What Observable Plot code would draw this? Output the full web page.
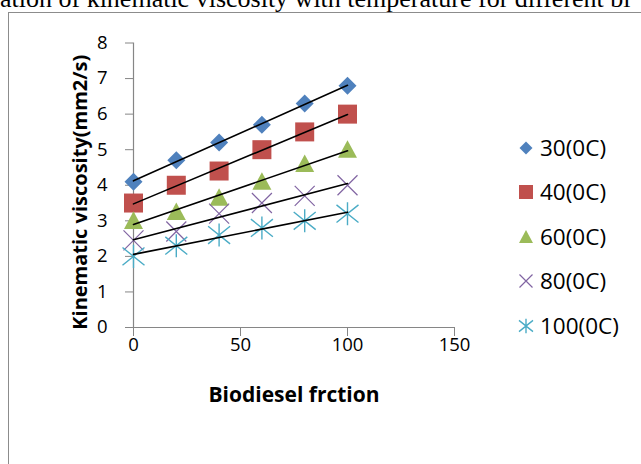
<!DOCTYPE html>
<html>
<head>
<meta charset="utf-8">
<script src="https://cdn.jsdelivr.net/npm/d3@7"></script>
<script src="https://cdn.jsdelivr.net/npm/@observablehq/plot@0.6"></script>
<style>
html,body{margin:0;padding:0;background:#fff;}
#wrap{position:relative;width:641px;height:464px;overflow:hidden;background:#fff;}
#title{position:absolute;left:0;top:-14px;font-family:"Liberation Serif","Times New Roman",serif;font-size:26px;line-height:26px;white-space:nowrap;color:#000;}
#chart{position:absolute;left:0;top:0;}
#frame{position:absolute;left:8px;top:12px;width:700px;height:500px;border-left:1.5px solid #8c8c8c;border-top:1px solid #8c8c8c;pointer-events:none;}
#legend{position:absolute;left:470px;top:100px;}
</style>
</head>
<body>
<div id="wrap">
  <div id="title"></div>
  <div id="chart"></div>
  <div id="frame"></div>
  <svg id="legend" width="171" height="260"></svg>
</div>
<script>
// ---- data ----
const titleText = "ation of kinematic viscosity with temperature for different bl";
const xLabel = "Biodiesel frction";
const yLabel = "Kinematic viscosity(mm2/s)";
const fractions = [0, 20, 40, 60, 80, 100];
const v30 = [4.1, 4.7, 5.2, 5.7, 6.3, 6.8];
const v40 = [3.5, 4.0, 4.4, 5.0, 5.5, 6.0];
const v60 = [3.0, 3.25, 3.65, 4.1, 4.6, 5.0];
const v80 = [2.45, 2.7, 3.2, 3.5, 3.7, 4.0];
const v100 = [2.0, 2.3, 2.6, 2.8, 3.0, 3.2];
const seriesNames = ["30(0C)", "40(0C)", "60(0C)", "80(0C)", "100(0C)"];
const xTicks = [0, 50, 100, 150];
const yTicks = [0, 1, 2, 3, 4, 5, 6, 7, 8];

// ---- symbols (Excel-like markers) ----
const rad = s => Math.sqrt(s / Math.PI);
const diamondSym = {draw(c, s){const r = rad(s); c.moveTo(0,-r); c.lineTo(r,0); c.lineTo(0,r); c.lineTo(-r,0); c.closePath();}};
const squareSym = {draw(c, s){const r = rad(s); c.moveTo(-r,-r); c.lineTo(r,-r); c.lineTo(r,r); c.lineTo(-r,r); c.closePath();}};
const triangleSym = {draw(c, s){const r = rad(s); c.moveTo(0,-r); c.lineTo(r,r*0.85); c.lineTo(-r,r*0.85); c.closePath();}};
const timesSym = {draw(c, s){const r = rad(s); c.moveTo(-r,-r); c.lineTo(r,r); c.moveTo(-r,r); c.lineTo(r,-r);}};
const asteriskSym = {draw(c, s){const r = rad(s); c.moveTo(-r,-r*0.8); c.lineTo(r,r*0.8); c.moveTo(-r,r*0.8); c.lineTo(r,-r*0.8); c.moveTo(0,-r*1.05); c.lineTo(0,r*1.05);}};

const styles = [
  {sym: diamondSym, fill: "#4F81BD", stroke: "none", r: 9, lr: 6.5},
  {sym: squareSym, fill: "#C0504D", stroke: "none", r: 9.5, lr: 7},
  {sym: triangleSym, fill: "#9BBB59", stroke: "none", r: 9.5, lr: 7},
  {sym: timesSym, fill: "none", stroke: "#8064A2", r: 10, lr: 6.5, sw: 1.2},
  {sym: asteriskSym, fill: "none", stroke: "#4BACC6", r: 11, lr: 7, sw: 1.4}
];

const seriesValues = [v30, v40, v60, v80, v100];
const rows = seriesNames.flatMap((name, i) =>
  fractions.map((f, j) => ({series: name, x: f, y: seriesValues[i][j]})));

document.getElementById("title").textContent = titleText;

const dotMarks = seriesNames.map((name, i) => {
  const st = styles[i];
  return Plot.dot(rows.filter(d => d.series === name), {
    x: "x", y: "y", symbol: st.sym, r: st.r,
    fill: st.fill, stroke: st.stroke, strokeWidth: st.sw || 1
  });
});

const plot = Plot.plot({
  width: 641,
  height: 464,
  marginLeft: 133,
  marginRight: 187,
  marginTop: 42.5,
  marginBottom: 137,
  style: {fontFamily: "'Open Sans', sans-serif", fontSize: "18.5px", color: "black", background: "transparent"},
  x: {domain: [0, 150]},
  y: {domain: [0, 8]},
  marks: [
    Plot.ruleY([0], {stroke: "#868686", strokeWidth: 1.2}),
    Plot.ruleX([0], {stroke: "#868686", strokeWidth: 1.2}),
    Plot.axisX({ticks: xTicks, tickSize: 9, tickPadding: 1, stroke: "#868686", fill: "black", fontSize: 18.5, label: null}),
    Plot.axisY({ticks: yTicks, tickSize: 8, tickPadding: 18, stroke: "#868686", fill: "black", fontSize: 18.5, label: null}),
    ...dotMarks,
    Plot.linearRegressionY(rows, {x: "x", y: "y", z: "series", stroke: "black", strokeWidth: 1.6, ci: 0}),
    Plot.text([yLabel], {text: d => d, frameAnchor: "left", textAnchor: "middle", lineAnchor: "middle", rotate: -90, dx: -53, dy: 7, fontWeight: "bold", fontSize: 20}),
    Plot.text([xLabel], {text: d => d, frameAnchor: "bottom", textAnchor: "middle", lineAnchor: "middle", dy: 68, fontWeight: "bold", fontSize: 21})
  ]
});
document.getElementById("chart").appendChild(plot);

// ---- legend ----
const leg = d3.select("#legend");
const rowY = [48, 92, 137, 181, 226];
seriesNames.forEach((name, i) => {
  const st = styles[i];
  const g = leg.append("g").attr("transform", `translate(0,${rowY[i]})`);
  g.append("path")
    .attr("transform", "translate(56,0)")
    .attr("d", d3.symbol().type(st.sym).size(Math.PI * st.lr * st.lr)())
    .attr("fill", st.fill).attr("stroke", st.stroke).attr("stroke-width", st.sw || 1);
  g.append("text")
    .attr("x", 70).attr("dy", "0.36em")
    .attr("font-family", "'Open Sans', sans-serif").attr("font-size", 22.5)
    .text(name);
});
</script>
</body>
</html>
